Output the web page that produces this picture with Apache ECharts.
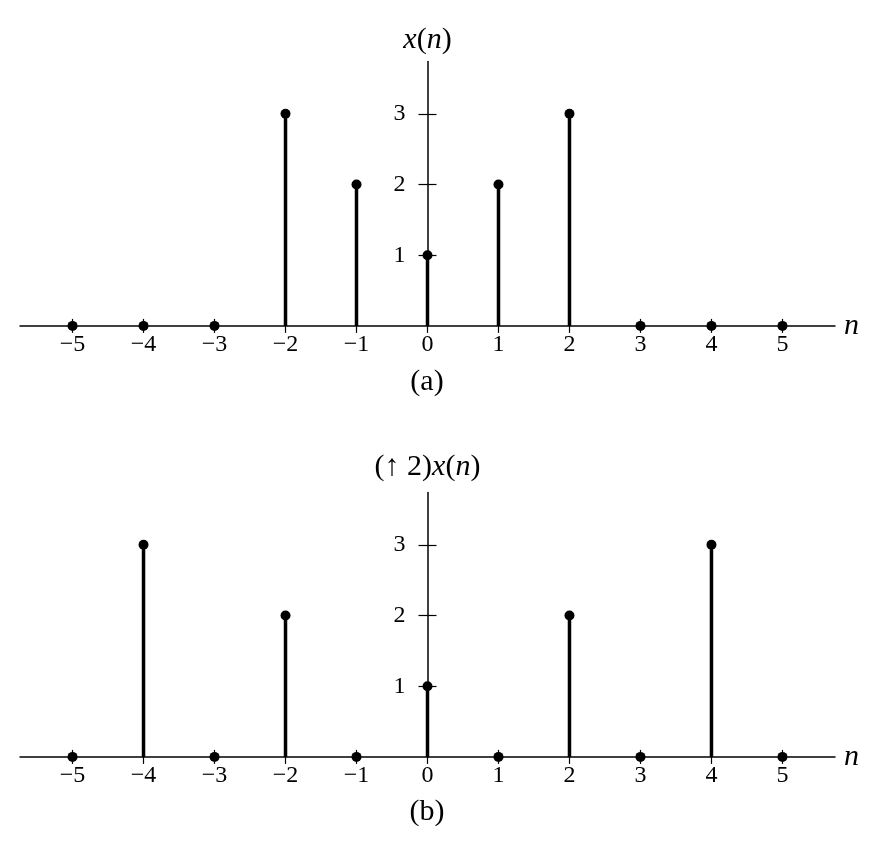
<!DOCTYPE html>
<html>
<head>
<meta charset="utf-8">
<script src="https://cdn.jsdelivr.net/npm/echarts@6/dist/echarts.min.js"></script>
<style>html,body{margin:0;padding:0;background:#fff}#c{width:879px;height:858px}</style>
</head>
<body>
<div id="c"></div>
<script>
var nValues = [-5, -4, -3, -2, -1, 0, 1, 2, 3, 4, 5];
var xValues = [0, 0, 0, 3, 2, 1, 2, 3, 0, 0, 0];
var upValues = [0, 3, 0, 2, 0, 1, 0, 2, 0, 3, 0];
var yTicks = [1, 2, 3];
var panelLabels = ['(a)', '(b)'];
var FONT = '"Liberation Serif", "Times New Roman", serif';

var chart = echarts.init(document.getElementById('c'), null, {renderer: 'canvas'});

function fmtN(v) { return v < 0 ? '\u2212' + (-v) : String(v); }

var GRID_LEFT = 20, GRID_RIGHT = 44, X_MIN = -5.74, X_MAX = 5.74;
var gridWidth = 879 - GRID_LEFT - GRID_RIGHT;
// place the vertical axis at n = 0 (moved into the grid by offset)
var yOffset = -gridWidth * (0 - X_MIN) / (X_MAX - X_MIN);

var grids = [
  {left: GRID_LEFT, right: GRID_RIGHT, top: 61.5, height: 264.4, containLabel: false, outerBoundsMode: 'none'},
  {left: GRID_LEFT, right: GRID_RIGHT, top: 492.5, height: 264.4, containLabel: false, outerBoundsMode: 'none'}
];

var xAxes = [], yAxes = [];
var nameRich = {
  i: {fontFamily: FONT, fontStyle: 'italic', fontSize: 30, color: '#000'},
  r: {fontFamily: FONT, fontSize: 30, color: '#000'}
};
var yNames = ['{i|x}{r|(}{i|n}{r|)}', '{r|(\u2191 2)}{i|x}{r|(}{i|n}{r|)}'];
var nameGaps = [6, 10];

for (var g = 0; g < 2; g++) {
  xAxes.push({
    gridIndex: g, type: 'value', min: X_MIN, max: X_MAX, position: 'bottom',
    axisLine: {onZero: false, lineStyle: {color: '#000', width: 1.5}},
    axisTick: {show: true, customValues: nValues, length: 7, inside: false, lineStyle: {color: '#000', width: 1.2}},
    axisLabel: {customValues: nValues, formatter: fmtN, margin: 7, fontFamily: FONT, fontSize: 24, color: '#000'},
    splitLine: {show: false},
    name: '{i|n}', nameLocation: 'end', nameGap: 9,
    nameTextStyle: {rich: nameRich, verticalAlign: 'middle'}
  });
  xAxes.push({
    gridIndex: g, type: 'value', min: X_MIN, max: X_MAX, position: 'bottom',
    axisLine: {show: false, onZero: false},
    axisTick: {show: true, customValues: nValues, length: 7, inside: true, lineStyle: {color: '#000', width: 1.2}},
    axisLabel: {show: false},
    splitLine: {show: false}
  });
  yAxes.push({
    gridIndex: g, type: 'value', min: 0, max: 3.74, position: 'left', offset: yOffset,
    axisLine: {show: true, onZero: false, lineStyle: {color: '#000', width: 1.5}},
    axisTick: {show: true, customValues: yTicks, length: 9, inside: false, lineStyle: {color: '#000', width: 1.2}},
    axisLabel: {customValues: yTicks, margin: 22, fontFamily: FONT, fontSize: 24, color: '#000'},
    splitLine: {show: false},
    name: yNames[g], nameLocation: 'end', nameGap: nameGaps[g],
    nameTextStyle: {rich: nameRich, align: 'center'}
  });
  yAxes.push({
    gridIndex: g, type: 'value', min: 0, max: 3.74, position: 'left', offset: yOffset,
    axisLine: {show: false, onZero: false},
    axisTick: {show: true, customValues: yTicks, length: 9, inside: true, lineStyle: {color: '#000', width: 1.2}},
    axisLabel: {show: false},
    splitLine: {show: false}
  });
}

function stemData(vals) {
  return nValues.map(function (n, i) { return [n, vals[i]]; });
}

function stemSeries(vals, g) {
  return {
    type: 'custom', xAxisIndex: 2 * g, yAxisIndex: 2 * g,
    data: stemData(vals),
    renderItem: function (params, api) {
      var p0 = api.coord([api.value(0), 0]);
      var p1 = api.coord([api.value(0), api.value(1)]);
      return {type: 'line', shape: {x1: p0[0], y1: p0[1], x2: p1[0], y2: p1[1]},
        style: {stroke: '#000', lineWidth: 3.5}};
    },
    silent: true, z: 3
  };
}
function dotSeries(vals, g) {
  return {
    type: 'scatter', xAxisIndex: 2 * g, yAxisIndex: 2 * g,
    data: stemData(vals), symbol: 'circle', symbolSize: 10,
    itemStyle: {color: '#000', opacity: 1}, silent: true, z: 4
  };
}

chart.setOption({
  animation: false,
  backgroundColor: '#fff',
  grid: grids,
  xAxis: xAxes,
  yAxis: yAxes,
  series: [stemSeries(xValues, 0), dotSeries(xValues, 0), stemSeries(upValues, 1), dotSeries(upValues, 1)],
  graphic: [
    {type: 'text', x: 427, y: 382, style: {text: panelLabels[0], align: 'center', verticalAlign: 'middle', font: '30px ' + FONT, fill: '#000'}},
    {type: 'text', x: 427, y: 812, style: {text: panelLabels[1], align: 'center', verticalAlign: 'middle', font: '30px ' + FONT, fill: '#000'}}
  ]
});
</script>
</body>
</html>
